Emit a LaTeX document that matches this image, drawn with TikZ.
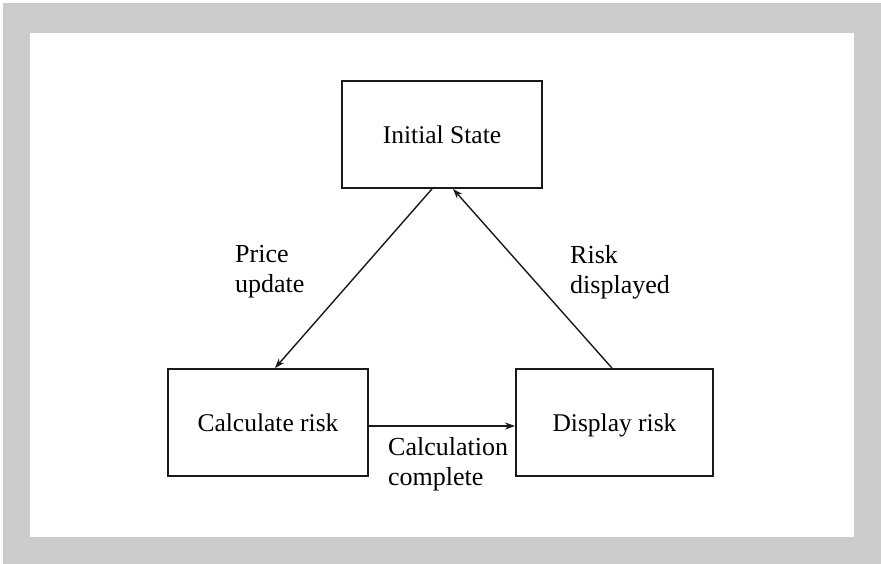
\documentclass[tikz,border=0pt]{standalone}
\usepackage{fontspec}
\setmainfont{Liberation Serif}
\usetikzlibrary{arrows.meta}
\usepackage{xcolor}
\definecolor{frameGray}{HTML}{CCCCCC}
\definecolor{lineDark}{HTML}{1A1A1A}
\tikzset{
    StateFont/.style={font=\fontsize{25.5}{30}\selectfont},
    EventFont/.style={font=\fontsize{26}{30}\selectfont},
    StateBox/.style={draw=lineDark, line width=1.8pt, minimum height=107pt,
        text height=18pt, text depth=0pt, StateFont},
    EventLabel/.style={EventFont, align=left, inner sep=0pt, anchor=base west},
    StepArrow/.style={-{Stealth[length=10pt, width=7pt]}, draw=lineDark, line width=1.4pt}
}

\begin{document}
\begin{tikzpicture}[x=1pt, y=-1pt]
    % grey frame with the white sheet inside
    \useasboundingbox (0,0) rectangle (881,564);
    \fill[frameGray] (3,3) rectangle (881,564);
    \fill[white] (30,33) rectangle (854,537);

    % the three states
    \node[StateBox, minimum width=200pt] (init) at (442,134.5) {Initial State};
    \node[StateBox, minimum width=200pt] (calc) at (268,422.5) {Calculate risk};
    \node[StateBox, minimum width=197pt] (disp) at (614.5,422.5) {Display risk};

    % transitions
    \draw[StepArrow] ([xshift=-10pt]init.south) -- ([xshift=7pt]calc.north);
    \draw[StepArrow] ([yshift=-3.5pt]calc.east) -- ([yshift=-3.5pt]disp.west);
    \draw[StepArrow] ([xshift=-2.5pt]disp.north) -- ([xshift=11pt]init.south);

    % events on the transitions (base is the last line)
    \node[EventLabel] (lblPrice) at (235,292) {Price\\update};
    \node[EventLabel] (lblDone) at (388,485) {Calculation\\complete};
    \node[EventLabel] (lblShown) at (570,293) {Risk\\displayed};
\end{tikzpicture}
\end{document}
